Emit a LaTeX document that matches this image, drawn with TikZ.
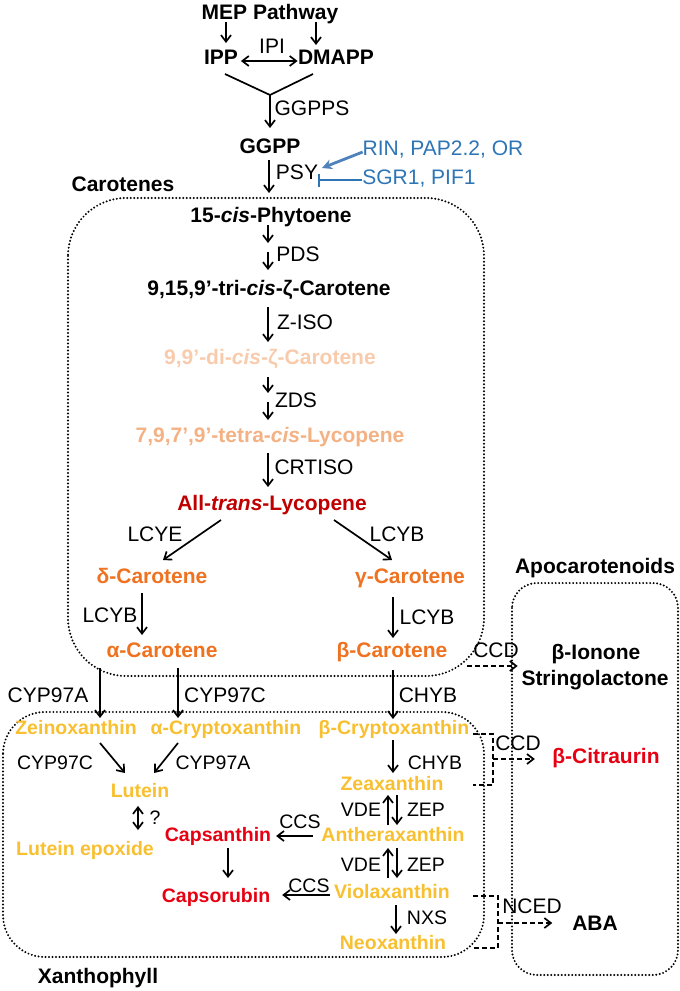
\documentclass[tikz,border=0pt]{standalone}
\usepackage{fontspec}
\setmainfont{Liberation Sans}
\usetikzlibrary{arrows.meta}
\definecolor{peachA}{RGB}{248,203,173}
\definecolor{peachB}{RGB}{244,177,131}
\definecolor{dred}{RGB}{192,0,0}
\definecolor{orng}{RGB}{238,114,32}
\definecolor{xyel}{RGB}{248,192,48}
\definecolor{bred}{RGB}{230,0,18}
\definecolor{bluet}{RGB}{46,117,182}
\definecolor{bluea}{RGB}{79,129,189}
\begin{document}
\begin{tikzpicture}[x=1pt,y=-1pt,
  base/.style={inner sep=0pt,outer sep=0pt,text height=15pt,text depth=0pt,font=\fontsize{21}{25}\selectfont},
  met/.style={base,font=\fontsize{21}{25}\selectfont\bfseries},
  xan/.style={base,text height=14pt,font=\fontsize{19.5}{23}\selectfont\bfseries,text=xyel},
  lab/.style={base},
  slab/.style={base,text height=14pt,font=\fontsize{19.5}{23}\selectfont},
  arr/.style={line width=1.7pt,-{Straight Barb[length=6.5pt,width=10pt]}},
  darr/.style={arr,dash pattern=on 5pt off 3pt},
  dbr/.style={line width=1.7pt,dash pattern=on 5pt off 3pt},
  dbl/.style={line width=1.7pt,{Straight Barb[length=6.5pt,width=10pt]}-{Straight Barb[length=6.5pt,width=10pt]}},
  grp/.style={line width=2.2pt,line cap=round,dash pattern=on 0pt off 3.5pt},
  sh/.style 2 args={shorten <=#1pt,shorten >=#2pt}
]
\useasboundingbox (0,0) rectangle (680,991);

% group boxes
\draw[grp,rounded corners=58pt] (68,198) rectangle (484,676);
\draw[grp,rounded corners=42pt] (3,712) rectangle (484,957);
\draw[grp,rounded corners=25pt] (512,583) rectangle (678,975);

% nodes
\node[met] (mep) at (270,12) {MEP Pathway};
\node[met] (ipp) at (221,57) {IPP};
\node[met] (dmapp) at (336,57) {DMAPP};
\node[lab] (ipi) at (272,46) {IPI};
\node[lab] (ggpps) at (312,108) {GGPPS};
\node[met] (ggpp) at (270,146) {GGPP};
\node[lab] (psy) at (297,172) {PSY};
\node[lab,text=bluet] (rin) at (443,148) {RIN, PAP2.2, OR};
\node[lab,text=bluet] (sgr) at (419,177) {SGR1, PIF1};
\node[met] (carlab) at (123,184) {Carotenes};
\node[met] (phyt) at (271,215) {15-\textit{cis}-Phytoene};
\node[lab] (pds) at (298,254) {PDS};
\node[met] (zc1) at (269,288) {9,15,9’-tri-\textit{cis}-ζ-Carotene};
\node[lab] (ziso) at (305,322) {Z-ISO};
\node[met,text=peachA] (zc2) at (270,357) {9,9’-di-\textit{cis}-ζ-Carotene};
\node[lab] (zds) at (296,400) {ZDS};
\node[met,text=peachB] (lyc1) at (270,435) {7,9,7’,9’-tetra-\textit{cis}-Lycopene};
\node[lab] (crtiso) at (314,467) {CRTISO};
\node[met,text=dred] (lyc) at (272,503) {All-\textit{trans}-Lycopene};
\node[lab] (lcye) at (155,534) {LCYE};
\node[lab] (lcyb1) at (397,534) {LCYB};
\node[met,text=orng] (dcar) at (152,576) {δ-Carotene};
\node[met,text=orng] (gcar) at (410,576) {γ-Carotene};
\node[lab] (lcyb2) at (110,615) {LCYB};
\node[lab] (lcyb3) at (427,617) {LCYB};
\node[met,text=orng] (acar) at (162,650) {α-Carotene};
\node[met,text=orng] (bcar) at (392,650) {β-Carotene};
\node[lab] (ccd1) at (496,650) {CCD};
\node[met] (apolab) at (595,566) {Apocarotenoids};
\node[met] (ion) at (596,652) {β-Ionone};
\node[met] (strigo) at (595,678) {Stringolactone};
\node[lab] (cyp1) at (48,695) {CYP97A};
\node[lab] (cyp2) at (225,695) {CYP97C};
\node[lab] (chyb1) at (428,695) {CHYB};
\node[xan] (zein) at (76,727) {Zeinoxanthin};
\node[xan] (acry) at (226,727) {α-Cryptoxanthin};
\node[xan] (bcry) at (394,727) {β-Cryptoxanthin};
\node[slab] (cyp3) at (55,762) {CYP97C};
\node[slab] (cyp4) at (213,762) {CYP97A};
\node[slab] (chyb2) at (435,762) {CHYB};
\node[lab] (ccd2) at (518,743) {CCD};
\node[met,text=bred] (citr) at (606,756) {β-Citraurin};
\node[xan] (lut) at (140,790) {Lutein};
\node[xan] (zea) at (392,783) {Zeaxanthin};
\node[slab] (vde1) at (361,809) {VDE};
\node[slab] (zep1) at (426,809) {ZEP};
\node[slab] (q) at (155,817) {?};
\node[slab] (ccs1) at (300,821) {CCS};
\node[xan,text=bred] (caps) at (218,834) {Capsanthin};
\node[xan] (anth) at (393,834) {Antheraxanthin};
\node[xan] (lutep) at (85,848) {Lutein epoxide};
\node[slab] (vde2) at (361,864) {VDE};
\node[slab] (zep2) at (426,864) {ZEP};
\node[slab] (ccs2) at (309,885) {CCS};
\node[xan] (viol) at (392,891) {Violaxanthin};
\node[xan,text=bred] (capr) at (216,895) {Capsorubin};
\node[lab] (nced) at (532,906) {NCED};
\node[met] (aba) at (595,923) {ABA};
\node[slab] (nxs) at (427,917) {NXS};
\node[xan] (neo) at (393,942) {Neoxanthin};
\node[met] (xanlab) at (98,976) {Xanthophyll};

% column coordinates
\coordinate (colM) at (268,0);
\coordinate (colP) at (269,0);
\coordinate (colL) at (142,0);
\coordinate (colR) at (393,0);
\coordinate (colZ) at (100,0);
\coordinate (colC) at (178,0);
\coordinate (colU) at (138,0);
\coordinate (colV) at (388,0);
\coordinate (colW) at (397,0);
\coordinate (colN) at (396,0);
\coordinate (colK) at (228,0);

% top
\draw[arr,sh={2.5}{6.5}] ([xshift=-44pt]mep.south) -- ([xshift=5pt]ipp.north);
\draw[arr,sh={2.5}{4.5}] ([xshift=46pt]mep.south) -- ([xshift=-20pt]dmapp.north);
\draw[dbl,sh={3}{0.5}] ([yshift=-4pt]ipp.east) -- ([yshift=-4pt]dmapp.west);
\coordinate (ym) at (270,95);
\draw[line width=1.7pt] ([shift={(4pt,-9.5pt)}]ipp.south) -- (ym) -- ([shift={(-23pt,-9.5pt)}]dmapp.south);
\draw[arr,sh={0}{10.5}] (ym) -- (ggpp.north);
\draw[arr,sh={6.5}{14.5}] (colP |- ggpp.south) -- (colP |- phyt.north);
\draw[bluea,line width=2.8pt,-{Stealth[length=10pt,width=10pt]}] ([yshift=-4pt]rin.west) -- ([shift={(4pt,4pt)}]psy.east);
\draw[bluet,line width=1.6pt,-{Bar[width=13pt]}] ([yshift=-3pt]sgr.west) -- ([shift={(0pt,-8pt)}]psy.east);

% carotenes
\coordinate (pdsA) at (268,243);
\coordinate (pdsB) at (268,252);
\draw[arr,sh={2.5}{0}] (colM |- phyt.south) -- (pdsA);
\draw[arr,sh={0}{10.5}] (pdsB) -- (colM |- zc1.north);
\draw[arr,sh={11.5}{7.5}] (colM |- zc1.south) -- (colM |- zc2.north);
\coordinate (zdsA) at (268,393);
\coordinate (zdsB) at (268,402);
\draw[arr,sh={12.5}{0}] (colM |- zc2.south) -- (zdsA);
\draw[arr,sh={0}{7.5}] (zdsB) -- (colM |- lyc1.north);
\draw[arr,sh={10.5}{8.5}] (colM |- lyc1.south) -- (colM |- lyc.north);
\draw[arr] ([shift={(-51pt,-9.5pt)}]lyc.south) -- ([shift={(11pt,8.5pt)}]dcar.north);
\draw[arr] ([shift={(62pt,-9.5pt)}]lyc.south) -- ([shift={(-18pt,8.5pt)}]gcar.north);
\draw[arr,sh={9.5}{7.5}] (colL |- dcar.south) -- (colL |- acar.north);
\draw[arr,sh={13.5}{4.5}] (colR |- gcar.south) -- (colR |- bcar.north);

% to xanthophylls
\draw[arr,sh={10.5}{2}] (colZ |- acar.south) -- (colZ |- zein.north);
\draw[arr,sh={10.5}{2}] (colC |- acar.south) -- (colC |- acry.north);
\draw[arr,sh={12.5}{1}] (colR |- bcar.south) -- (colR |- bcry.north);
\draw[arr] ([shift={(24pt,-9pt)}]zein.south) -- ([shift={(-15pt,10pt)}]lut.north);
\draw[arr] ([shift={(-48pt,-9pt)}]acry.south) -- ([shift={(14pt,10pt)}]lut.north);
\draw[dbl,sh={9}{11}] (colU |- lut.south) -- (colU |- lutep.north);
\draw[arr,sh={6}{3}] (colR |- bcry.south) -- (colR |- zea.north);
\draw[arr,sh={2}{5}] (colV |- anth.north) -- (colV |- zea.south);
\draw[arr,sh={5}{2}] (colW |- zea.south) -- (colW |- anth.north);
\draw[arr,sh={6}{7}] (colV |- viol.north) -- (colV |- anth.south);
\draw[arr,sh={7}{6}] (colW |- anth.south) -- (colW |- viol.north);
\draw[arr,sh={7}{1}] (colN |- viol.south) -- (colN |- neo.north);
\coordinate (ccsA) at ([yshift=-2pt]anth.west);
\draw[arr,sh={8.5}{5}] (ccsA) -- (ccsA -| caps.east);
\coordinate (ccsB) at ([yshift=-4pt]viol.west);
\draw[arr,sh={4}{12}] (ccsB) -- (ccsB -| capr.east);
\draw[arr,sh={7}{10}] (colK |- caps.south) -- (colK |- capr.north);

% apocarotenoids
\coordinate (ccdS) at ([yshift=-16pt]bcar.east);
\draw[darr,sh={20}{34}] (ccdS) -- (ccdS -| ion.west);
\coordinate (brA) at ([shift={(4pt,-7pt)}]bcry.east);
\coordinate (brB) at ([xshift=20pt]brA);
\coordinate (brZ) at ([yshift=-2pt]zea.east);
\draw[dbr] (brA) -- (brB) -- (brB |- brZ) -- (brA |- brZ);
\coordinate (brM) at ([yshift=-3pt]citr.west);
\draw[darr,sh={0}{17.5}] (brB |- brM) -- (brM);
\coordinate (brC) at ([shift={(23pt,-5pt)}]viol.east);
\coordinate (brD) at ([xshift=25pt]brC);
\coordinate (brE) at ([yshift=-6pt]neo.east);
\draw[dbr] (brC) -- (brD) -- (brD |- brE) -- (brC |- brE);
\draw[darr,sh={0}{20}] (brD |- aba.west) -- (aba.west);
\end{tikzpicture}
\end{document}
